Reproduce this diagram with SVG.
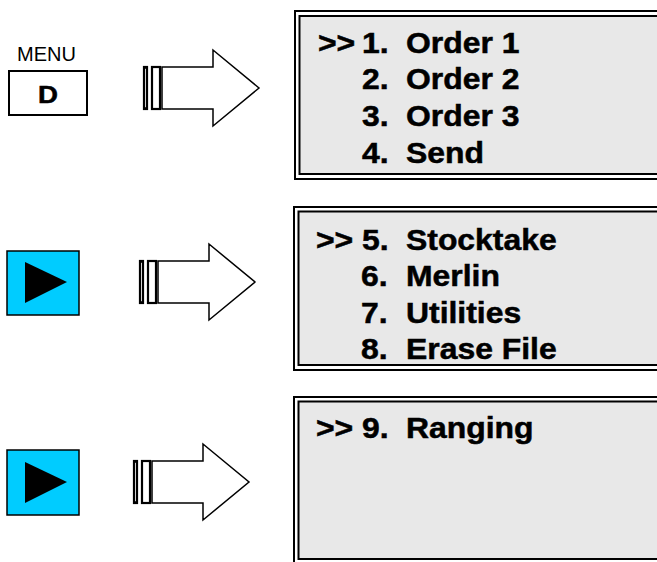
<svg xmlns="http://www.w3.org/2000/svg" width="657" height="562" viewBox="0 0 657 562">
<style>
.outer{fill:#fff;stroke:#000;stroke-width:2}
.inner{fill:#e8e8e8;stroke:#000;stroke-width:2}
.t{font-family:"Liberation Sans",Arial,sans-serif;font-weight:bold;font-size:29px;fill:#000;stroke:#000;stroke-width:0.5}
.bar{fill:#fff;stroke:#000;stroke-width:2.2}
.body{fill:#fff;stroke:#000;stroke-width:1.5;stroke-linejoin:miter}
.btn{fill:#00ccff;stroke:#000;stroke-width:1.5}
</style>
<defs>
<g id="arrow">
<rect class="bar" x="1" y="-21" width="3" height="42"/>
<rect class="bar" x="9" y="-21" width="8" height="42"/>
<polygon class="body" points="19,-21 70,-21 70,-38 116,0 70,38 70,21 19,21"/>
</g>
</defs>
<rect width="657" height="562" fill="#fff"/>
<g id="menu-key">
<text x="17" y="61" style="font-family:'Liberation Sans',Arial,sans-serif;font-size:20px">MENU</text>
<rect x="9" y="71" width="78" height="44" fill="#fff" stroke="#000" stroke-width="2"/>
<text class="t" transform="translate(48,103) scale(1.2,1)" text-anchor="middle" style="font-size:23px">D</text>
</g>
<g id="next-key-1">
<rect class="btn" x="7" y="251" width="72" height="64"/>
<polygon points="25,262 67,282 25,303" fill="#000"/>
</g>
<g id="next-key-2">
<rect class="btn" x="7" y="450" width="72" height="65"/>
<polygon points="25,462 67,482 25,503" fill="#000"/>
</g>
<g id="connectors">
<use href="#arrow" transform="translate(143,88)"/>
<use href="#arrow" transform="translate(139,282)"/>
<use href="#arrow" transform="translate(133,482)"/>
</g>
<g id="screen-1">
<rect class="outer" x="295" y="11" width="400" height="168"/>
<rect class="inner" x="299.5" y="16" width="400" height="158"/>
<text class="t" transform="translate(318,53) scale(1.1,1)">&gt;&gt;</text>
<text class="t" transform="translate(362,53) scale(1.1,1)">1.</text>
<text class="t" transform="translate(406,53) scale(1.1,1)">Order 1</text>
<text class="t" transform="translate(362,89) scale(1.1,1)">2.</text>
<text class="t" transform="translate(406,89) scale(1.1,1)">Order 2</text>
<text class="t" transform="translate(362,126) scale(1.1,1)">3.</text>
<text class="t" transform="translate(406,126) scale(1.1,1)">Order 3</text>
<text class="t" transform="translate(362,163) scale(1.1,1)">4.</text>
<text class="t" transform="translate(406,163) scale(1.1,1)">Send</text>
</g>
<g id="screen-2">
<rect class="outer" x="294" y="207" width="400" height="163"/>
<rect class="inner" x="298.5" y="211.5" width="400" height="153.5"/>
<text class="t" transform="translate(316,250) scale(1.1,1)">&gt;&gt;</text>
<text class="t" transform="translate(362,250) scale(1.1,1)">5.</text>
<text class="t" transform="translate(406,250) scale(1.1,1)">Stocktake</text>
<text class="t" transform="translate(361,286) scale(1.1,1)">6.</text>
<text class="t" transform="translate(406,286) scale(1.1,1)">Merlin</text>
<text class="t" transform="translate(361,323) scale(1.1,1)">7.</text>
<text class="t" transform="translate(406,323) scale(1.1,1)">Utilities</text>
<text class="t" transform="translate(361,359) scale(1.1,1)">8.</text>
<text class="t" transform="translate(406,359) scale(1.1,1)">Erase File</text>
</g>
<g id="screen-3">
<rect class="outer" x="294" y="397" width="400" height="170"/>
<rect class="inner" x="298.5" y="401.5" width="400" height="157.5"/>
<text class="t" transform="translate(316,438) scale(1.1,1)">&gt;&gt;</text>
<text class="t" transform="translate(362,438) scale(1.1,1)">9.</text>
<text class="t" transform="translate(406,438) scale(1.1,1)">Ranging</text>
</g>
</svg>
